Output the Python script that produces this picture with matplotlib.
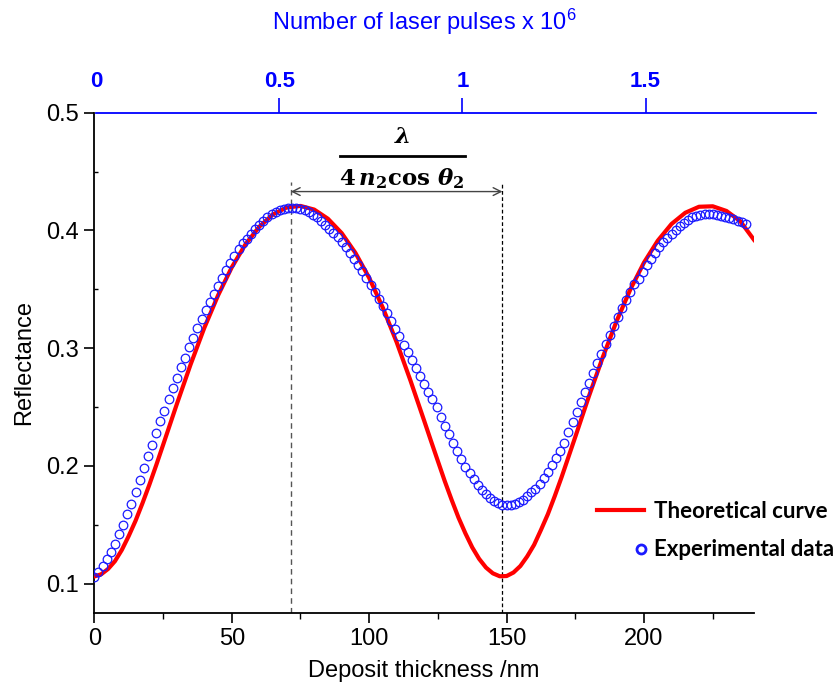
import numpy as np
import matplotlib
matplotlib.use("Agg")
import matplotlib.pyplot as plt
from matplotlib.legend_handler import HandlerLine2DCompound
from matplotlib.ticker import MultipleLocator

plt.rcParams['font.family'] = ['Liberation Sans', 'DejaVu Sans']
plt.rcParams['mathtext.fontset'] = 'custom'
plt.rcParams['mathtext.it'] = 'DejaVu Serif:italic:bold'
plt.rcParams['mathtext.rm'] = 'DejaVu Serif:bold'
plt.rcParams['mathtext.bf'] = 'DejaVu Serif:bold'

# theoretical curve (denser where it bends)
theo_x = [0, 2.5, 5, 7.5, 10, 12.5, 15, 17.5, 20, 22.5, 25, 30, 35, 40, 45,
          50, 55, 60, 65, 70, 75, 80, 85, 90, 95, 100, 105, 110, 115, 120,
          122.5, 125, 127.5, 130, 132.5, 135, 137.5, 140, 142.5, 145, 147.5, 150,
          152.5, 155, 157.5, 160, 162.5, 165, 167.5, 170, 175, 180, 185, 190, 195,
          200, 205, 210, 215, 220, 225, 230, 235, 240]
theo_r = [0.106, 0.1079, 0.1124, 0.119, 0.1285, 0.1403, 0.1533, 0.1681, 0.1838, 0.2004,
          0.2176, 0.2523, 0.2859, 0.3171, 0.3447, 0.3686, 0.3882, 0.4031, 0.4136, 0.4195,
          0.4208, 0.4177, 0.4099, 0.3977, 0.3809, 0.3597, 0.3342, 0.305, 0.2726, 0.2384,
          0.2211, 0.204, 0.187, 0.1711, 0.156, 0.1427, 0.1307, 0.121, 0.1136, 0.1087,
          0.1062, 0.1064, 0.1094, 0.1149, 0.1231, 0.1329, 0.1456, 0.1589, 0.1742, 0.1904,
          0.2247, 0.2595, 0.2924, 0.3229, 0.3498, 0.3728, 0.3913, 0.4055, 0.415, 0.4201,
          0.4205, 0.4165, 0.4078, 0.392]

# experimental data, every 1.5 nm
exp_x = np.arange(159) * 1.5
exp_r = [0.106, 0.110, 0.115, 0.121, 0.127, 0.134, 0.142, 0.150, 0.159, 0.168,
         0.178, 0.188, 0.198, 0.208, 0.218, 0.228, 0.238, 0.247, 0.257, 0.266,
         0.275, 0.284, 0.292, 0.301, 0.309, 0.317, 0.325, 0.332, 0.339, 0.346,
         0.353, 0.360, 0.366, 0.372, 0.378, 0.384, 0.389, 0.393, 0.397, 0.401,
         0.405, 0.408, 0.411, 0.414, 0.416, 0.417, 0.418, 0.419, 0.419, 0.419,
         0.418, 0.417, 0.4155, 0.4135, 0.411, 0.408, 0.405, 0.4015, 0.398, 0.394,
         0.390, 0.3855, 0.381, 0.376, 0.371, 0.3655, 0.360, 0.354, 0.348, 0.342,
         0.336, 0.3295, 0.323, 0.3165, 0.310, 0.303, 0.2965, 0.2895, 0.283, 0.276,
         0.2695, 0.263, 0.2565, 0.250, 0.2415, 0.234, 0.2273, 0.2195, 0.2127, 0.206,
         0.1993, 0.1939, 0.1888, 0.184, 0.1798, 0.176, 0.1728, 0.1703, 0.1683, 0.167,
         0.1664, 0.1667, 0.1676, 0.1692, 0.1712, 0.174, 0.1774, 0.1806, 0.1845, 0.1898,
         0.195, 0.2004, 0.2068, 0.2128, 0.2197, 0.229, 0.2375, 0.2458, 0.2541, 0.2624,
         0.2707, 0.2789, 0.2871, 0.2952, 0.3032, 0.3111, 0.3189, 0.3265, 0.3339, 0.3411,
         0.3481, 0.3548, 0.3585, 0.3645, 0.3702, 0.3757, 0.3808, 0.3856, 0.3898, 0.3936,
         0.3972, 0.4006, 0.4038, 0.4067, 0.4089, 0.411, 0.4124, 0.4135, 0.414, 0.4141,
         0.4139, 0.4134, 0.4126, 0.4117, 0.4106, 0.4094, 0.4081, 0.4068, 0.4054]

pulse_ticks = [0, 0.5, 1, 1.5]
pulse_labels = ['0', '0.5', '1', '1.5']
peak_x, min_x = 71.5, 148.5
bracket_top, arrow_y = 0.4415, 0.433

W, H = 837, 688
fig = plt.figure(figsize=(W / 100, H / 100), dpi=100)
ax = fig.add_axes([94.3 / W, (H - 613) / H, (754 - 94.3) / W, (613 - 112.7) / H])

theo_line, = ax.plot(theo_x, theo_r, color='#ff0000', lw=3.0, zorder=3)
exp_pts, = ax.plot(exp_x, exp_r, 'o', ms=6.2, mfc='none', mec='#1a1aff', mew=0.9, zorder=4)

# period marker: dashed guides, double arrow and the fraction
ax.plot([peak_x, peak_x], [0.075, bracket_top], color='#555555', lw=1.0, ls=(0, (4, 3)), zorder=2)
ax.plot([min_x, min_x], [0.075, bracket_top], color='black', lw=0.9, ls=(0, (3, 2)), zorder=2)
ax.annotate('', xy=(peak_x, arrow_y), xytext=(min_x, arrow_y),
            arrowprops=dict(arrowstyle='<->', color='#444444', lw=1.0, shrinkA=0, shrinkB=0,
                            mutation_scale=14))
frac_x, frac_half = 112, 22.7
ax.text(frac_x, 0.4794, r'$\lambda$', ha='center', va='center', fontsize=16.5)
ax.plot([frac_x - frac_half, frac_x + frac_half], [0.4632, 0.4632], color='black', lw=2.0)
ax.text(frac_x, 0.4440, r'$4\,n_2\cos\,\theta_2$', ha='center', va='center', fontsize=16.5)

ax.set_xlim(0, 240)
ax.set_ylim(0.075, 0.5)
ax.xaxis.set_major_locator(MultipleLocator(50))
ax.xaxis.set_minor_locator(MultipleLocator(25))
ax.yaxis.set_major_locator(MultipleLocator(0.1))
ax.yaxis.set_minor_locator(MultipleLocator(0.05))
ax.yaxis.set_major_formatter(plt.FuncFormatter(lambda v, p: f'{v:.1f}'))
for s in ['top', 'right']:
    ax.spines[s].set_visible(False)
for s in ['left', 'bottom']:
    ax.spines[s].set_linewidth(1.3)
ax.tick_params(which='major', length=7, width=1.2, labelsize=17, pad=4)
ax.tick_params(axis='y', which='minor', length=3, width=1.0, direction='in')
ax.tick_params(axis='x', which='minor', length=4, width=1.0)
ax.set_xlabel('Deposit thickness /nm', fontsize=17, labelpad=7)
ax.set_ylabel('Reflectance', fontsize=17, labelpad=8)

# top axis: laser pulses
ax2 = fig.add_axes([96 / W, (H - 113) / H, 720 / W, 0.0001])
ax2.patch.set_visible(False)
for s in ['left', 'right', 'bottom']:
    ax2.spines[s].set_visible(False)
ax2.spines['top'].set_color('#0000ff')
ax2.spines['top'].set_linewidth(1.3)
ax2.set_yticks([])
ax2.set_xlim(0, 1.965)
ax2.xaxis.tick_top()
ax2.set_xticks(pulse_ticks)
ax2.set_xticklabels(pulse_labels, fontweight='bold')
ax2.tick_params(axis='x', colors='#0000ff', length=11, width=1.2, labelsize=16, pad=4)
ax2.xaxis.get_major_ticks()[0].tick2line.set_visible(False)
fig.text(424 / W, 1 - 22 / H, r'Number of laser pulses x 10$^{\mathregular{6}}$',
         color='#0000ff', fontsize=17, ha='center', va='center')


class MarkerRight(HandlerLine2DCompound):
    def get_xdata(self, legend, xdescent, ydescent, width, height, fontsize):
        xdata, _ = super().get_xdata(legend, xdescent, ydescent, width, height, fontsize)
        return xdata, [-xdescent + width - 2]


def thick_marker(artist, orig):
    artist.update_from(orig)
    artist.set_markersize(6.5)
    artist.set_markeredgewidth(2.0)


leg = ax.legend([theo_line, exp_pts], ['Theoretical curve', 'Experimental data'],
                handler_map={exp_pts: MarkerRight(numpoints=1, update_func=thick_marker)},
                loc='upper left', bbox_to_anchor=(597 / W, 1 - 501 / H),
                bbox_transform=fig.transFigure, frameon=False, borderpad=0, borderaxespad=0,
                handlelength=2.1, handletextpad=0.45, labelspacing=0.78,
                prop={'family': 'Lato', 'weight': 'bold', 'size': 16})

fig.savefig('out.png', dpi=100)
